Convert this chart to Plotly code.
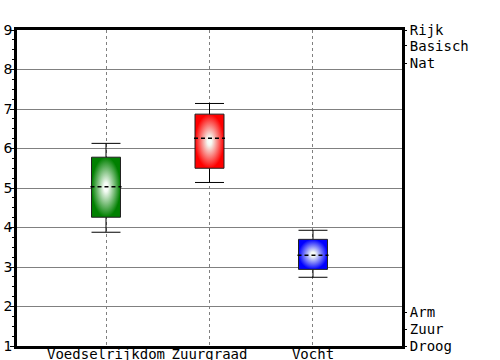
import plotly.graph_objects as go

categories = ["Voedselrijkdom", "Zuurgraad", "Vocht"]
lower = [3.88, 5.14, 2.74]
q1 = [4.26, 5.50, 2.94]
median = [5.03, 6.26, 3.30]
q3 = [5.78, 6.87, 3.70]
upper = [6.13, 7.14, 3.93]
colors = ["#008000", "#ff0000", "#0000ff"]

right_vals = [1.0, 1.43, 1.86, 8.16, 8.6, 9.0]
right_text = ["Droog", "Zuur", "Arm", "Nat", "Basisch", "Rijk"]

HW = 0.14  # half width of box in category units

fig = go.Figure()
for i, cat in enumerate(categories):
    x0, x1 = i - HW, i + HW
    # whiskers
    fig.add_trace(go.Scatter(
        x=[i, i, None, i, i, None, x0, x1, None, x0, x1],
        y=[q3[i], upper[i], None, q1[i], lower[i], None, upper[i], upper[i], None, lower[i], lower[i]],
        mode="lines", line=dict(color="black", width=1), hoverinfo="skip", showlegend=False))
    # box with radial gradient
    fig.add_trace(go.Scatter(
        x=[x0, x1, x1, x0, x0], y=[q1[i], q1[i], q3[i], q3[i], q1[i]],
        mode="lines", fill="toself",
        fillgradient=dict(type="radial", colorscale=[[0, "#ffffff"], [0.15, "#f4fbf4"], [1, colors[i]]]),
        line=dict(color="#202020", width=1), showlegend=False, name=cat))
    # median
    fig.add_trace(go.Scatter(
        x=[x0 - 0.01, x1 + 0.01], y=[median[i], median[i]], mode="lines",
        line=dict(color="black", width=1.5, dash="4px,3px"), showlegend=False, hoverinfo="skip"))

# invisible trace for right axis
fig.add_trace(go.Scatter(x=[0], y=[5], yaxis="y2", mode="markers",
                         marker=dict(opacity=0), showlegend=False, hoverinfo="skip"))

fig.update_layout(
    width=500, height=360,
    margin=dict(l=17, r=98, t=30, b=14, autoexpand=False),
    paper_bgcolor="white", plot_bgcolor="white",
    xaxis=dict(range=[-0.86, 2.86], tickvals=[0, 1, 2], ticktext=categories,
               showgrid=True, gridcolor="#808080", griddash="3px,3px", gridwidth=1,
               showline=True, linecolor="black", linewidth=2.5, mirror=True,
               ticks="", zeroline=False, automargin=False, ticklabelstandoff=-7,
               tickfont=dict(family="DejaVu Sans Mono", size=14, color="black")),
    yaxis=dict(range=[1, 9], dtick=1, showgrid=True, gridcolor="#808080", gridwidth=1,
               showline=True, linecolor="black", linewidth=2.5, mirror=True,
               ticks="outside", ticklen=4, tickcolor="black", zeroline=False, automargin=False,
               ticklabelstandoff=-5,
               minor=dict(dtick=0.25, ticks="outside", ticklen=2, tickcolor="black", showgrid=False),
               tickfont=dict(family="DejaVu Sans", size=14, color="black")),
    yaxis2=dict(range=[1, 9], overlaying="y", side="right", tickvals=right_vals, ticktext=right_text,
                showgrid=False, zeroline=False, showline=False, ticks="outside", ticklen=4,
                tickcolor="black", automargin=False,
                minor=dict(dtick=0.25, ticks="outside", ticklen=2, tickcolor="black", showgrid=False),
                tickfont=dict(family="DejaVu Sans Mono", size=14, color="black")),
)

fig.write_html("out.html", config={"displayModeBar": False},
               post_script="document.body.style.margin='0';")
